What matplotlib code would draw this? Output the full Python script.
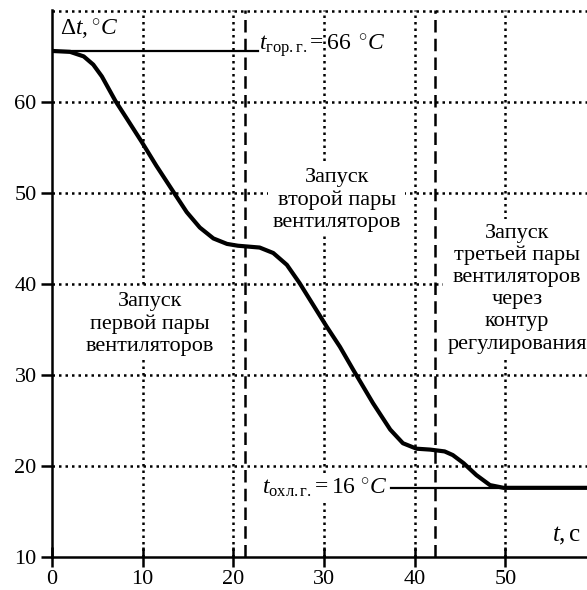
import matplotlib
matplotlib.use("Agg")
import matplotlib.pyplot as plt

plt.rcParams['font.family'] = ['Liberation Serif', 'DejaVu Serif']
plt.rcParams['mathtext.fontset'] = 'custom'
plt.rcParams['mathtext.rm'] = 'Liberation Serif'
plt.rcParams['mathtext.it'] = 'Liberation Serif:italic'
plt.rcParams['mathtext.bf'] = 'Liberation Serif:bold'

# ---- data ----
time_s = [0, 2.0, 3.5, 4.55, 5.5, 7.0, 8.23, 9.9, 11.5, 13.4, 14.85, 16.3, 17.8,
          19.3, 20.5, 22.9, 24.4, 25.9, 27.3, 28.8, 30.3, 31.75, 33.2, 35.4,
          37.3, 38.7, 40.2, 41.7, 43.3, 44.2, 45.4, 46.8, 48.3, 49.8, 59.0]
delta_t = [65.6, 65.5, 65.0, 64.1, 62.8, 60.1, 58.2, 55.6, 53.0, 50.1, 47.9, 46.2,
           45.0, 44.4, 44.2, 44.0, 43.4, 42.1, 40.1, 37.7, 35.3, 33.1, 30.6,
           26.9, 24.0, 22.5, 21.9, 21.8, 21.6, 21.2, 20.3, 19.0, 17.9, 17.6, 17.6]
t_hot = 65.6
t_hot_x = [0, 22.7]
t_cool = 17.6
t_cool_x = [37.4, 59.0]
fan_switch_times = [21.3, 42.2]
x_ticks = [0, 10, 20, 30, 40, 50]
y_ticks = [10, 20, 30, 40, 50, 60]

fig = plt.figure(figsize=(5.87, 5.90), dpi=100)
ax = fig.add_axes([52/587, 33/590, 1 - 52/587, 547/590])
ax.set_xlim(0, 59)
ax.set_ylim(10, 70.1)

dot = (0, (1.0, 1.6))
lwg = 1.8
for xv in x_ticks[1:]:
    ax.axvline(xv, color='black', lw=lwg, ls=dot, zorder=1)
for yv in y_ticks[1:] + [70]:
    ax.axhline(yv, color='black', lw=lwg, ls=dot, zorder=1)
for xv in fan_switch_times:
    ax.axvline(xv, color='black', lw=1.8, ls=(0, (5, 2.5)), zorder=1)

ax.plot(t_hot_x, [t_hot, t_hot], color='black', lw=1.6, zorder=2)
ax.plot(t_cool_x, [t_cool, t_cool], color='black', lw=1.6, zorder=2)
ax.plot(time_s, delta_t, color='black', lw=3.0, zorder=4, solid_capstyle='butt',
        solid_joinstyle='round')

for s in ['top', 'right']:
    ax.spines[s].set_visible(False)
for s in ['left', 'bottom']:
    ax.spines[s].set_linewidth(1.8)

ax.set_xticks(x_ticks)
ax.set_yticks(y_ticks)
ax.tick_params(axis='x', direction='inout', length=14, width=1.8, labelsize=16, pad=2)
ax.tick_params(axis='y', direction='out', length=8, width=1.8, labelsize=16, pad=3)

box = dict(facecolor='white', edgecolor='none', pad=3)
fs = 16
ls = 1.22
ax.text(0.9, 67.9, r'$\Delta t,{}^{\circ}C$', fontsize=17, ha='left', va='center', zorder=5)
ax.text(22.8, 66.1, r'$t_{\mathrm{гор.г.}}\!= 66\ \,{}^{\circ}C$', fontsize=17, ha='left', va='center', zorder=5)
ax.text(23.2, 17.6, r'$t_{\mathrm{охл.г.}}\!= 16\ {}^{\circ}C$', fontsize=17, ha='left', va='center',
        zorder=5, bbox=dict(facecolor='white', edgecolor='none', pad=1))
ax.text(56.7, 12.3, r'$t,$с', fontsize=18, ha='center', va='center', zorder=5)

ax.text(10.8, 35.6, 'Запуск\nпервой пары\nвентиляторов', fontsize=fs, ha='center', va='center',
        linespacing=ls, zorder=5, bbox=box)
ax.text(31.4, 49.2, 'Запуск\nвторой пары\nвентиляторов', fontsize=fs, ha='center', va='center',
        linespacing=ls, zorder=5, bbox=box)
ax.text(51.3, 39.5, 'Запуск\nтретьей пары\nвентиляторов\nчерез\nконтур\nрегулирования', fontsize=fs,
        ha='center', va='center', linespacing=ls, zorder=5, bbox=box, clip_on=False)

fig.savefig('out.png', dpi=100)
